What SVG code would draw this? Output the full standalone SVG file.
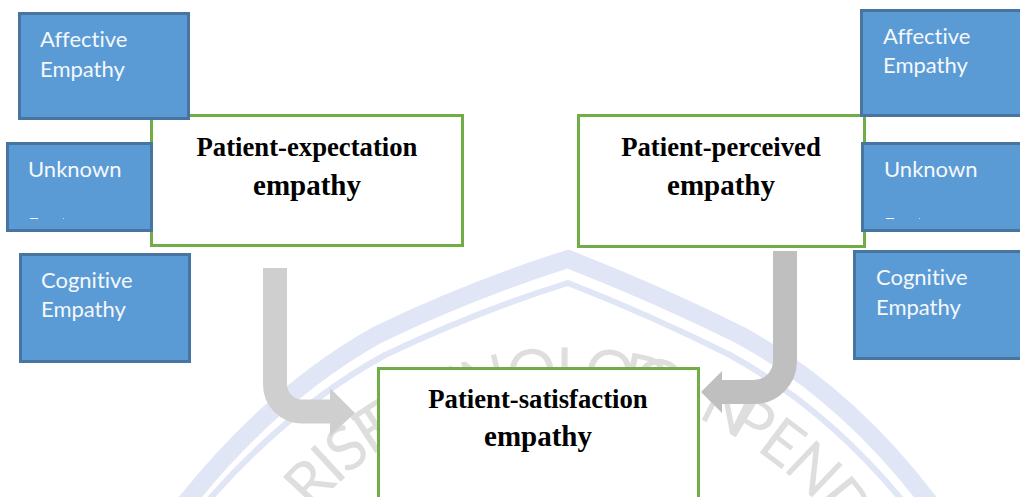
<svg xmlns="http://www.w3.org/2000/svg" width="1020" height="497" viewBox="0 0 1020 497">
<style>
.wm{fill:none;stroke:#e0e6f6}
.wt{font-family:"Lato","Liberation Sans",sans-serif;font-size:62px;fill:#dedede;font-weight:400;text-anchor:middle;letter-spacing:-3px}
.b{fill:#5b9bd5;stroke:#47759f;stroke-width:3}
.l{font-family:"Lato","Open Sans",sans-serif;font-size:22px;fill:#f4f8fc;font-variant-ligatures:none}
.g{fill:#fff;stroke:#70ad47;stroke-width:3}
.t{font-family:"Liberation Serif",serif;font-weight:bold;fill:#000;text-anchor:middle}
.t1{font-size:26.7px}
.t2{font-size:29px}
.a{fill:none;stroke-width:24}
</style>
<defs>
<path id="wp" d="M 235 725 A 333 333 0 0 1 901 725"/>
</defs>
<rect width="1020" height="497" fill="#fff"/>
<g id="watermark">
<path class="wm" stroke-width="18" d="M 180 510 Q 270 395 377 335 Q 470 290 568 259 Q 660 295 740 335 Q 850 395 935 510"/>
<path class="wm" stroke-width="6" d="M 200 510 Q 285 410 385 355 Q 480 310 568 283 Q 650 315 730 355 Q 830 410 910 510"/>
<text class="wt"><textPath href="#wp" startOffset="305">RISET</textPath></text>
<text class="wt"><textPath href="#wp" startOffset="478">TEKNOLOGI</textPath></text>
<text class="wt"><textPath href="#wp" startOffset="636">DAN</textPath></text>
<text class="wt"><textPath href="#wp" startOffset="772">PENDI</textPath></text>
</g>
<g id="connectors">
<g id="arrow-left"><path class="a" stroke="#cfcfcf" d="M275 268V384A27 27 0 0 0 302 411.500H332"/><path fill="#cfcfcf" d="M330 388L355 413L330 436Z"/></g>
<g id="arrow-right"><path class="a" stroke="#bfbfbf" d="M785 251V361A31 31 0 0 1 754 392H721"/><path fill="#bfbfbf" d="M722 371L701 392L722 413Z"/></g>
</g>
<g id="node-patient-expectation"><rect class="g" x="151.500" y="115.500" width="311" height="130"/>
<text class="t t1" x="307" y="156">Patient-expectation</text><text class="t t2" x="307" y="195">empathy</text></g>
<g id="node-patient-perceived"><rect class="g" x="578.500" y="115.500" width="286" height="131"/>
<text class="t t1" x="721" y="156">Patient-perceived</text><text class="t t2" x="721" y="195">empathy</text></g>
<g id="node-patient-satisfaction"><path fill="#fff" d="M378.500 368.500H698.500V497H378.500Z"/><path fill="none" stroke="#70ad47" stroke-width="3" d="M378.500 497V368.500H698.500V497"/>
<text class="t t1" x="538" y="408">Patient-satisfaction</text><text class="t t2" x="538" y="446">empathy</text></g>
<g id="node-left-affective"><rect class="b" x="19.500" y="13.500" width="169" height="105"/>
<text class="l" x="40" y="47">Affective</text><text class="l" x="40" y="77">Empathy</text></g>
<g id="node-left-unknown"><rect class="b" x="7.500" y="143.500" width="144" height="87"/>
<text class="l" x="28" y="177">Unknown</text><rect x="30" y="218" width="8" height="1" fill="#fff"/><rect x="63" y="218" width="1" height="1" fill="#cde"/></g>
<g id="node-left-cognitive"><rect class="b" x="20.500" y="254.500" width="169" height="107"/>
<text class="l" x="41" y="288">Cognitive</text><text class="l" x="41" y="317">Empathy</text></g>
<g id="node-right-affective"><rect class="b" x="861.500" y="10.500" width="170" height="105"/>
<text class="l" x="883" y="44">Affective</text><text class="l" x="883" y="73">Empathy</text></g>
<g id="node-right-unknown"><rect class="b" x="862.500" y="143.500" width="170" height="87"/>
<text class="l" x="884" y="177">Unknown</text><rect x="886" y="218" width="8" height="1" fill="#fff"/><rect x="919" y="218" width="1" height="1" fill="#cde"/></g>
<g id="node-right-cognitive"><rect class="b" x="854.500" y="251.500" width="170" height="107"/>
<text class="l" x="876" y="285">Cognitive</text><text class="l" x="876" y="315">Empathy</text></g>
</svg>
